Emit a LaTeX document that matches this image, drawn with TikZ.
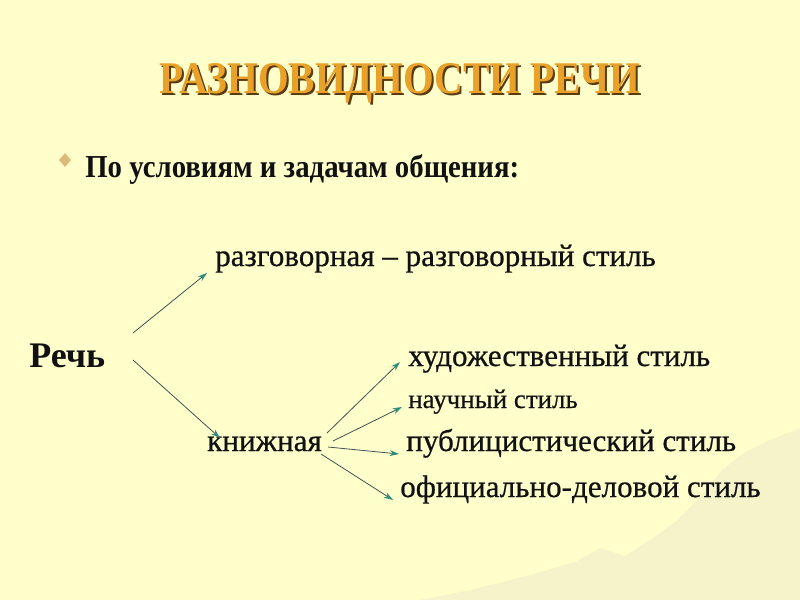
\documentclass[tikz,border=0pt]{standalone}
\usepackage{fontspec}
\setmainfont{Liberation Serif}
\newfontfamily\regfont[FakeBold=0.6]{Liberation Serif}
\newfontfamily\condfont[FakeStretch=0.90]{Liberation Serif}
\newfontfamily\titlefont[FakeStretch=0.87]{Liberation Serif}
\usetikzlibrary{arrows.meta}
\definecolor{bg}{HTML}{FFFFCC}
\definecolor{ink}{HTML}{111111}
\definecolor{gold}{HTML}{E8A22A}
\definecolor{shadowc}{HTML}{5A3A10}
\definecolor{diam}{HTML}{DDBB77}
\definecolor{arrline}{HTML}{3C5450}
\definecolor{arrhead}{HTML}{2E8C7C}
\definecolor{mount}{HTML}{F5F3CA}
\begin{document}
\begin{tikzpicture}[x=0.75pt,y=-0.75pt,
  txt/.style={inner sep=0pt,anchor=base west,text=ink,font=\regfont\fontsize{23.3}{25}\selectfont},
  small/.style={txt,font=\regfont\fontsize{20.2}{22}\selectfont},
  boldtxt/.style={txt,font=\condfont\bfseries\fontsize{24}{26}\selectfont},
  conn/.style={draw=arrline,line width=0.6pt,-{Stealth[length=7pt,width=4.5pt,color=arrhead]}}]
\fill[bg] (0,0) rectangle (800,600);
\useasboundingbox (0,0) rectangle (800,600);
% faint mountains watermark
\fill[mount] (420,600) -- (470,590) -- (530,575) -- (575,562) -- (600,548) -- (625,556) -- (650,540) -- (675,522) -- (700,498) -- (722,470) -- (745,452) -- (770,440) -- (800,428) -- (800,600) -- cycle;
% title
\node[inner sep=0pt,anchor=base,text=shadowc,font=\titlefont\bfseries\fontsize{34}{36}\selectfont] at (402,95) {РАЗНОВИДНОСТИ РЕЧИ};
\node[inner sep=0pt,anchor=base,text=gold,font=\titlefont\bfseries\fontsize{34}{36}\selectfont] (title) at (400,93) {РАЗНОВИДНОСТИ РЕЧИ};
% bullet
\fill[diam] (65,153) -- (71,160) -- (65,167) -- (59,160) -- cycle;
\node[boldtxt] (sub) at (85,177) {По условиям и задачам общения:};
\node[txt] (razg) at (215,266) {разговорная – разговорный стиль};
\node[boldtxt,font=\bfseries\fontsize{27}{29}\selectfont] (rech) at (29,367) {Речь};
\node[txt] (knizh) at (207,451) {книжная};
\node[txt] (hud) at (408,366) {художественный стиль};
\node[small] (nauch) at (408,408) {научный стиль};
\node[txt] (publ) at (406,451) {публицистический стиль};
\node[txt] (ofic) at (400,497) {официально-деловой стиль};
% connector endpoints
\coordinate (r1) at (133,333);
\coordinate (r2) at (133,360);
\coordinate (k1) at (327,433);
\coordinate (k2) at (333,441);
\coordinate (k3) at (328,447);
\coordinate (k4) at (321,454);
\coordinate (e1) at (207,273);
\coordinate (e2) at (220,438);
\coordinate (e3) at (400,362);
\coordinate (e4) at (402,407);
\coordinate (e5) at (399,454);
\coordinate (e6) at (393,500);
\draw[conn] (r1) -- (e1);
\draw[conn] (r2) -- (e2);
\draw[conn] (k1) -- (e3);
\draw[conn] (k2) -- (e4);
\draw[conn] (k3) -- (e5);
\draw[conn] (k4) -- (e6);
\end{tikzpicture}
\end{document}
